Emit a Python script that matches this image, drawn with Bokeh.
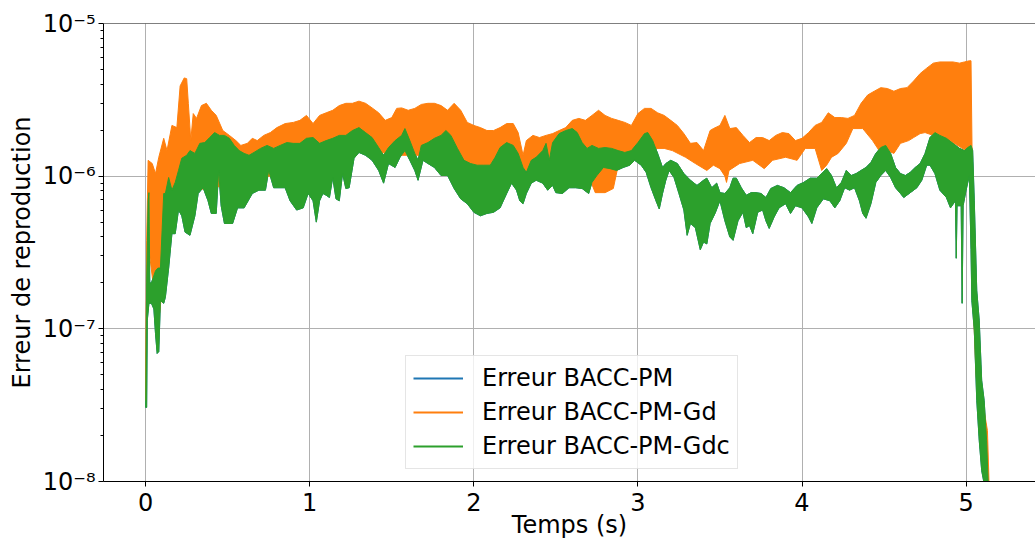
from bokeh.plotting import figure
from bokeh.models import (Range1d, FixedTicker, CustomJSTickFormatter, Span, Legend,
                          LegendItem)
from bokeh.embed import file_html
from bokeh.resources import INLINE

# ---------------- data ----------------
series_names = ["Erreur BACC-PM", "Erreur BACC-PM-Gd", "Erreur BACC-PM-Gdc"]
x_ticks = [0, 1, 2, 3, 4, 5]
y_ticks = [1e-8, 1e-7, 1e-6, 1e-5]

# Orange (BACC-PM-Gd): upper and lower envelope of the fast oscillation
gd_top_t = [0.000, 0.006, 0.015, 0.04, 0.06, 0.08, 0.11, 0.13, 0.16, 0.19, 0.21, 0.235, 0.25, 0.26,
            0.275, 0.29, 0.31, 0.34, 0.37, 0.40, 0.43, 0.47, 0.51, 0.55, 0.58, 0.62, 0.65, 0.68, 0.72,
            0.76, 0.80, 0.85, 0.90, 0.94, 0.98, 1.02, 1.06, 1.10, 1.14, 1.18, 1.22, 1.26, 1.30, 1.34,
            1.38, 1.42, 1.46, 1.50, 1.53, 1.56, 1.60, 1.64, 1.68, 1.72, 1.76, 1.80, 1.84, 1.88, 1.92,
            1.96, 2.00, 2.04, 2.08, 2.12, 2.16, 2.20, 2.24, 2.27, 2.30, 2.32, 2.36, 2.40, 2.44, 2.48,
            2.52, 2.56, 2.60, 2.64, 2.68, 2.72, 2.76, 2.80, 2.84, 2.88, 2.92, 2.96, 3.00, 3.04, 3.08,
            3.12, 3.16, 3.20, 3.24, 3.28, 3.32, 3.36, 3.40, 3.44, 3.46, 3.50, 3.53, 3.56, 3.60, 3.64,
            3.68, 3.72, 3.76, 3.80, 3.84, 3.88, 3.92, 3.96, 4.00, 4.04, 4.08, 4.12, 4.16, 4.20, 4.24,
            4.28, 4.32, 4.36, 4.40, 4.44, 4.48, 4.52, 4.56, 4.60, 4.64, 4.68, 4.72, 4.76, 4.80, 4.84,
            4.92, 4.96, 4.99, 5.02, 5.03, 5.04, 5.05, 5.07, 5.09, 5.11, 5.13, 5.14]
gd_top = [3.4e-8, 3.8e-7, 1.27e-6, 1.21e-6, 1.04e-6, 1.33e-6, 1.77e-6, 1.47e-6, 2.15e-6, 2.08e-6,
          3.9e-6, 4.4e-6, 4.35e-6, 3.0e-6, 1.71e-6, 2.57e-6, 2.39e-6, 2.9e-6, 3.0e-6, 2.7e-6, 2.5e-6,
          1.99e-6, 1.85e-6, 1.71e-6, 1.59e-6, 1.64e-6, 1.77e-6, 1.71e-6, 1.85e-6, 1.93e-6, 2.08e-6,
          2.21e-6, 2.25e-6, 2.32e-6, 2.5e-6, 2.21e-6, 2.5e-6, 2.6e-6, 2.7e-6, 2.9e-6, 3.0e-6, 3.0e-6,
          3.1e-6, 3.0e-6, 2.8e-6, 2.6e-6, 2.32e-6, 2.42e-6, 2.78e-6, 2.8e-6, 2.7e-6, 2.78e-6, 2.95e-6,
          3.0e-6, 3.0e-6, 2.9e-6, 2.7e-6, 3.0e-6, 2.7e-6, 2.25e-6, 2.15e-6, 2.08e-6, 1.99e-6, 1.99e-6,
          2.08e-6, 2.21e-6, 2.21e-6, 1.93e-6, 1.37e-6, 1.71e-6, 1.85e-6, 1.79e-6, 1.85e-6, 1.9e-6,
          1.99e-6, 2.08e-6, 2.32e-6, 2.39e-6, 2.32e-6, 2.5e-6, 2.7e-6, 2.5e-6, 2.39e-6, 2.32e-6,
          2.25e-6, 2.15e-6, 2.57e-6, 2.78e-6, 2.78e-6, 2.6e-6, 2.5e-6, 2.32e-6, 2.15e-6, 1.9e-6,
          1.64e-6, 1.66e-6, 1.47e-6, 1.99e-6, 2.05e-6, 2.15e-6, 2.5e-6, 2.05e-6, 2.08e-6, 1.85e-6,
          1.66e-6, 1.79e-6, 1.79e-6, 1.71e-6, 1.85e-6, 1.93e-6, 1.9e-6, 1.71e-6, 1.77e-6, 1.93e-6,
          2.15e-6, 2.25e-6, 2.6e-6, 2.42e-6, 2.42e-6, 2.39e-6, 2.5e-6, 3.0e-6, 3.4e-6, 3.6e-6, 3.8e-6,
          3.75e-6, 3.6e-6, 3.75e-6, 3.8e-6, 4.2e-6, 4.7e-6, 5.1e-6, 5.5e-6, 5.6e-6, 5.6e-6, 5.5e-6,
          5.6e-6, 5.7e-6, 5.7e-6, 6.9e-7, 1.78e-7, 8.4e-8, 4.6e-8, 2.9e-8, 2.16e-8, 9.7e-9]
gd_bot_t = [0.000, 0.006, 0.02, 0.05, 0.08, 0.12, 0.15, 0.20, 0.30, 0.50, 0.70, 0.90, 1.10, 1.30,
            1.50, 1.70, 1.90, 2.00, 2.20, 2.40, 2.60, 2.70, 2.74, 2.80, 2.85, 2.88, 2.95, 3.00, 3.05,
            3.10, 3.16, 3.21, 3.29, 3.35, 3.42, 3.46, 3.50, 3.53, 3.54, 3.555, 3.62, 3.70, 3.77, 3.82,
            3.90, 3.97, 4.02, 4.08, 4.12, 4.15, 4.18, 4.22, 4.27, 4.31, 4.37, 4.43, 4.47, 4.52, 4.56,
            4.60, 4.65, 4.68, 4.72, 4.75, 4.80, 4.90, 5.00, 5.03, 5.035, 5.045, 5.06, 5.08, 5.10, 5.12]
gd_bot = [3.4e-8, 2.0e-7, 3.3e-7, 1.8e-7, 1.14e-7, 2.8e-7, 4.4e-7, 6.9e-7, 8.1e-7, 8.7e-7, 1.0e-6,
          1.0e-6, 1.09e-6, 1.59e-6, 1.37e-6, 1.37e-6, 1.09e-6, 8.1e-7, 1.09e-6, 1.09e-6, 1.18e-6,
          1.0e-6, 7.8e-7, 7.8e-7, 8.3e-7, 1.18e-6, 1.27e-6, 1.47e-6, 1.47e-6, 1.52e-6, 1.52e-6,
          1.47e-6, 1.33e-6, 1.21e-6, 1.09e-6, 1.18e-6, 1.12e-6, 1.0e-6, 9.1e-7, 1.09e-6, 1.21e-6,
          1.27e-6, 1.12e-6, 1.27e-6, 1.33e-6, 1.27e-6, 1.52e-6, 1.52e-6, 1.09e-6, 1.18e-6, 1.33e-6,
          1.41e-6, 1.64e-6, 2.05e-6, 2.05e-6, 1.71e-6, 1.47e-6, 1.47e-6, 1.41e-6, 1.64e-6, 1.71e-6,
          1.79e-6, 1.9e-6, 1.93e-6, 1.85e-6, 1.71e-6, 1.47e-6, 1.47e-6, 4.1e-7, 1.32e-7, 5.3e-8,
          2.5e-8, 1.37e-8, 9.7e-9]

# Green (BACC-PM-Gdc); the blue BACC-PM curve lies under it
gdc_top_t = [0.000, 0.006, 0.015, 0.02, 0.025, 0.035, 0.06, 0.075, 0.09, 0.10, 0.11, 0.12, 0.14, 0.16,
             0.18, 0.20, 0.22, 0.25, 0.27, 0.30, 0.33, 0.36, 0.39, 0.42, 0.45, 0.48, 0.51, 0.54, 0.57,
             0.60, 0.63, 0.66, 0.70, 0.74, 0.78, 0.82, 0.86, 0.90, 0.94, 0.98, 1.02, 1.06, 1.10, 1.14,
             1.18, 1.22, 1.26, 1.30, 1.34, 1.38, 1.42, 1.45, 1.48, 1.52, 1.56, 1.58, 1.61, 1.64, 1.66,
             1.68, 1.72, 1.76, 1.80, 1.83, 1.86, 1.90, 1.94, 1.98, 2.02, 2.06, 2.10, 2.13, 2.16, 2.20,
             2.24, 2.27, 2.30, 2.32, 2.35, 2.38, 2.42, 2.44, 2.46, 2.48, 2.52, 2.56, 2.60, 2.63, 2.66,
             2.69, 2.72, 2.76, 2.80, 2.84, 2.88, 2.92, 2.96, 3.00, 3.04, 3.06, 3.09, 3.12, 3.15, 3.17,
             3.20, 3.24, 3.28, 3.32, 3.36, 3.40, 3.42, 3.45, 3.48, 3.50, 3.53, 3.56, 3.58, 3.60, 3.63,
             3.66, 3.69, 3.72, 3.75, 3.78, 3.81, 3.85, 3.89, 3.93, 3.97, 4.01, 4.05, 4.09, 4.12, 4.15,
             4.18, 4.21, 4.24, 4.27, 4.30, 4.33, 4.36, 4.39, 4.42, 4.45, 4.48, 4.51, 4.54, 4.57, 4.60,
             4.63, 4.66, 4.69, 4.72, 4.75, 4.78, 4.81, 4.84, 4.88, 4.92, 4.96, 4.99, 5.01, 5.03, 5.04,
             5.05, 5.065, 5.08, 5.095, 5.11, 5.125, 5.135]
gdc_top = [3.06e-8, 2.0e-7, 6.9e-7, 7.8e-7, 2.0e-7, 2.0e-7, 2.4e-7, 2.5e-7, 2.5e-7, 4.4e-7, 7.7e-7,
           7.7e-7, 9.8e-7, 8.1e-7, 9.1e-7, 1.09e-6, 1.31e-6, 1.37e-6, 1.47e-6, 1.41e-6, 1.64e-6,
           1.66e-6, 1.79e-6, 1.93e-6, 1.85e-6, 1.85e-6, 1.77e-6, 1.59e-6, 1.47e-6, 1.41e-6, 1.37e-6,
           1.43e-6, 1.52e-6, 1.59e-6, 1.52e-6, 1.59e-6, 1.66e-6, 1.64e-6, 1.64e-6, 1.77e-6, 1.79e-6,
           1.64e-6, 1.71e-6, 1.77e-6, 1.85e-6, 1.85e-6, 1.99e-6, 2.08e-6, 1.93e-6, 1.79e-6, 1.54e-6,
           1.37e-6, 1.54e-6, 1.71e-6, 1.85e-6, 2.05e-6, 1.71e-6, 1.41e-6, 1.27e-6, 1.59e-6, 1.66e-6,
           1.77e-6, 1.85e-6, 1.99e-6, 1.85e-6, 1.52e-6, 1.27e-6, 1.21e-6, 1.18e-6, 1.18e-6, 1.18e-6,
           1.33e-6, 1.54e-6, 1.66e-6, 1.59e-6, 1.41e-6, 1.14e-6, 1.06e-6, 1.27e-6, 1.33e-6, 1.47e-6,
           1.64e-6, 1.27e-6, 1.66e-6, 1.9e-6, 1.99e-6, 2.05e-6, 1.93e-6, 1.66e-6, 1.52e-6, 1.59e-6,
           1.52e-6, 1.54e-6, 1.52e-6, 1.47e-6, 1.43e-6, 1.47e-6, 1.66e-6, 1.9e-6, 1.93e-6, 1.71e-6,
           1.41e-6, 1.14e-6, 1.21e-6, 1.27e-6, 1.21e-6, 1.04e-6, 9.4e-7, 8.7e-7, 9.4e-7, 9.7e-7,
           8.4e-7, 9.0e-7, 7.8e-7, 7.7e-7, 8.4e-7, 9.7e-7, 9.7e-7, 8.4e-7, 7.5e-7, 7.8e-7, 7.8e-7,
           7.7e-7, 7.25e-7, 8.3e-7, 8.7e-7, 8.4e-7, 7.8e-7, 8.7e-7, 9.1e-7, 9.7e-7, 9.7e-7, 1.04e-6,
           1.12e-6, 1.01e-6, 8.4e-7, 9.1e-7, 1.09e-6, 1.01e-6, 1.04e-6, 1.09e-6, 1.14e-6, 1.23e-6,
           1.41e-6, 1.54e-6, 1.59e-6, 1.41e-6, 1.14e-6, 1.04e-6, 1.01e-6, 1.06e-6, 1.14e-6, 1.21e-6,
           1.41e-6, 1.79e-6, 1.93e-6, 1.85e-6, 1.77e-6, 1.64e-6, 1.52e-6, 1.47e-6, 1.54e-6, 1.59e-6,
           1.47e-6, 6.9e-7, 1.78e-7, 1.14e-7, 4.6e-8, 3.4e-8, 1.86e-8, 9.7e-9]
gdc_bot_t = [0.000, 0.006, 0.01, 0.02, 0.035, 0.05, 0.06, 0.07, 0.08, 0.09, 0.11, 0.12, 0.14, 0.16,
             0.18, 0.20, 0.22, 0.24, 0.27, 0.30, 0.32, 0.35, 0.38, 0.40, 0.43, 0.445, 0.46, 0.48, 0.53,
             0.56, 0.60, 0.65, 0.69, 0.73, 0.75, 0.78, 0.85, 0.88, 0.92, 0.96, 0.99, 1.02, 1.04, 1.06,
             1.08, 1.10, 1.12, 1.14, 1.16, 1.18, 1.20, 1.22, 1.24, 1.27, 1.30, 1.34, 1.38, 1.42, 1.45,
             1.48, 1.52, 1.55, 1.58, 1.61, 1.64, 1.66, 1.69, 1.72, 1.76, 1.80, 1.84, 1.88, 1.92, 1.96,
             2.00, 2.04, 2.08, 2.12, 2.16, 2.20, 2.23, 2.26, 2.28, 2.30, 2.32, 2.35, 2.38, 2.42, 2.45,
             2.48, 2.50, 2.54, 2.58, 2.62, 2.66, 2.70, 2.72, 2.75, 2.79, 2.83, 2.87, 2.91, 2.95, 2.98,
             3.02, 3.05, 3.08, 3.11, 3.13, 3.15, 3.17, 3.19, 3.22, 3.25, 3.28, 3.30, 3.32, 3.35, 3.38,
             3.40, 3.42, 3.44, 3.47, 3.50, 3.53, 3.56, 3.58, 3.61, 3.64, 3.66, 3.68, 3.70, 3.73, 3.76,
             3.78, 3.80, 3.83, 3.86, 3.90, 3.93, 3.96, 4.00, 4.04, 4.06, 4.09, 4.13, 4.17, 4.20, 4.23,
             4.26, 4.29, 4.32, 4.35, 4.37, 4.39, 4.42, 4.45, 4.48, 4.51, 4.54, 4.57, 4.60, 4.62, 4.66,
             4.70, 4.73, 4.76, 4.78, 4.81, 4.84, 4.88, 4.905, 4.935, 4.94, 4.945, 4.97, 4.976, 4.982,
             5.00, 5.02, 5.03, 5.035, 5.05, 5.065, 5.08, 5.095, 5.11]
gdc_bot = [3.06e-8, 3.06e-8, 1.14e-7, 1.47e-7, 1.47e-7, 1.35e-7, 9.3e-8, 6.9e-8, 7.1e-8, 1.53e-7,
           1.47e-7, 1.61e-7, 2.5e-7, 4.2e-7, 4.2e-7, 6.0e-7, 5.5e-7, 4.3e-7, 4.1e-7, 5.5e-7, 7.7e-7,
           8.4e-7, 6.9e-7, 5.7e-7, 5.7e-7, 1.09e-6, 6.4e-7, 4.9e-7, 4.9e-7, 6.2e-7, 6.2e-7, 7.7e-7,
           8.1e-7, 8.1e-7, 1.09e-6, 8.4e-7, 8.4e-7, 6.9e-7, 6.0e-7, 6.2e-7, 7.7e-7, 6.9e-7, 5.0e-7,
           6.9e-7, 7.7e-7, 7.5e-7, 7.25e-7, 9.8e-7, 7.1e-7, 6.9e-7, 1.04e-6, 8.3e-7, 8.4e-7, 1.31e-6,
           1.43e-6, 1.37e-6, 1.27e-6, 1.09e-6, 9.0e-7, 1.21e-6, 1.14e-6, 1.33e-6, 1.47e-6, 1.27e-6,
           1.09e-6, 9.4e-7, 1.27e-6, 1.21e-6, 1.14e-6, 1.01e-6, 1.01e-6, 8.3e-7, 7.1e-7, 6.6e-7,
           5.8e-7, 5.5e-7, 5.7e-7, 5.8e-7, 6.2e-7, 7.7e-7, 9.0e-7, 8.1e-7, 6.9e-7, 6.6e-7, 7.7e-7,
           9.0e-7, 9.4e-7, 9.0e-7, 8.1e-7, 8.7e-7, 7.8e-7, 7.7e-7, 8.4e-7, 8.4e-7, 8.3e-7, 7.7e-7,
           9.1e-7, 1.01e-6, 1.14e-6, 1.12e-6, 1.09e-6, 1.14e-6, 1.18e-6, 1.27e-6, 1.18e-6, 1.06e-6,
           8.4e-7, 6.9e-7, 6.1e-7, 7.7e-7, 9.4e-7, 1.09e-6, 9.8e-7, 7.7e-7, 6.0e-7, 4.1e-7, 4.9e-7,
           4.6e-7, 3.3e-7, 3.7e-7, 3.6e-7, 4.9e-7, 5.7e-7, 6.9e-7, 5.1e-7, 4.0e-7, 3.8e-7, 5.1e-7,
           5.8e-7, 4.6e-7, 4.75e-7, 4.2e-7, 5.8e-7, 6.0e-7, 5.1e-7, 4.55e-7, 5.4e-7, 6.2e-7, 6.6e-7,
           5.7e-7, 6.4e-7, 6.2e-7, 5.4e-7, 4.9e-7, 6.2e-7, 7.1e-7, 6.9e-7, 6.2e-7, 6.9e-7, 8.4e-7,
           8.1e-7, 8.4e-7, 6.9e-7, 5.7e-7, 5.3e-7, 6.6e-7, 9.1e-7, 1.01e-6, 1.09e-6, 9.8e-7, 8.4e-7,
           7.7e-7, 7.25e-7, 7.8e-7, 8.4e-7, 9.4e-7, 1.18e-6, 1.18e-6, 1.04e-6, 8.1e-7, 7.25e-7,
           6.2e-7, 6.9e-7, 2.9e-7, 6.4e-7, 6.4e-7, 1.47e-7, 6.4e-7, 8.1e-7, 1.01e-6, 3.3e-7, 1.53e-7,
           9.8e-8, 3.4e-8, 1.86e-8, 1.18e-8, 9.7e-9]

# ---------------- figure ----------------
BLUE, ORANGE, GREEN = "#1f77b4", "#ff7f0e", "#2ca02c"
FONT = "DejaVu Sans"

p = figure(width=1035, height=542, x_range=Range1d(-0.257, 5.423), y_range=Range1d(1e-8, 1e-5),
           y_axis_type="log", output_backend="svg", toolbar_location=None,
           min_border_left=103, min_border_right=0, min_border_top=23, min_border_bottom=61)
p.outline_line_color = None
p.background_fill_color = "white"
p.border_fill_color = "white"


def band(t_top, top, t_bot, bot):
    return list(t_top) + list(t_bot)[::-1], list(top) + list(bot)[::-1]


bx, by = band(gdc_top_t, gdc_top, gdc_bot_t, gdc_bot)
ox, oy = band(gd_top_t, gd_top, gd_bot_t, gd_bot)
p.patch(bx, by, fill_color=BLUE, line_color=BLUE, line_width=1)
p.patch(ox, oy, fill_color=ORANGE, line_color=ORANGE, line_width=1)
p.patch(bx, by, fill_color=GREEN, line_color=GREEN, line_width=1)

# legend handles (line samples, no visible data)
nan = float("nan")
handles = [p.line([nan], [nan], line_color=c, line_width=2) for c in (BLUE, ORANGE, GREEN)]

xa, ya = p.xaxis[0], p.yaxis[0]
xa.ticker = FixedTicker(ticks=x_ticks, minor_ticks=[])
y_minor = [m * t for t in y_ticks[:-1] for m in range(2, 10)]
ya.ticker = FixedTicker(ticks=y_ticks, minor_ticks=y_minor)
ya.formatter = CustomJSTickFormatter(code="""
const e = Math.round(Math.log10(tick));
const sup = {'-': '\u207b', '0': '\u2070', '1': '\u00b9', '2': '\u00b2', '3': '\u00b3',
             '4': '\u2074', '5': '\u2075', '6': '\u2076', '7': '\u2077', '8': '\u2078', '9': '\u2079'};
return '10' + String(e).split('').map(c => sup[c]).join('');
""")
for ax in (xa, ya):
    ax.axis_line_color = "black"
    ax.axis_line_width = 1
    ax.major_tick_line_color = "black"
    ax.minor_tick_line_color = "black"
    ax.major_tick_in = 0
    ax.major_tick_out = 5
    ax.minor_tick_in = 0
    ax.minor_tick_out = 3
    ax.major_label_text_font = FONT
    ax.major_label_text_font_size = "24px"
    ax.major_label_text_color = "black"
    ax.axis_label_text_font = FONT
    ax.axis_label_text_font_size = "24px"
    ax.axis_label_text_font_style = "normal"
    ax.axis_label_text_color = "black"
xa.major_label_standoff = 6
ya.major_label_standoff = 3

ya.axis_label = "Erreur de reproduction"
ya.axis_label_standoff = 4
xa.axis_label = "Temps (s)"
xa.axis_label_standoff = -3

for g in (p.xgrid[0], p.ygrid[0]):
    g.grid_line_color = "#b0b0b0"
    g.grid_line_width = 1

p.add_layout(Span(location=1e-5, dimension="width", line_color="black", line_width=1))

legend = Legend(items=[LegendItem(label=n, renderers=[h]) for n, h in zip(series_names, handles)],
                location=(302, 12), label_text_font=FONT, label_text_font_size="24px",
                label_text_color="black", glyph_width=50, glyph_height=30, label_height=30,
                label_standoff=19, spacing=4, padding=7, margin=0,
                border_line_color="#cccccc", border_line_width=1,
                background_fill_color="white", background_fill_alpha=0.8)
p.add_layout(legend)

open("out.html", "w").write(file_html(p, INLINE))
